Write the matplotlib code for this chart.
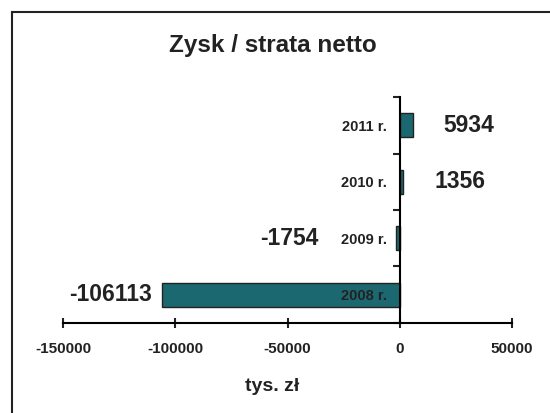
import matplotlib.pyplot as plt
from matplotlib.patches import Rectangle

years = ['2008 r.', '2009 r.', '2010 r.', '2011 r.']
profit = [-106113, -1754, 1356, 5934]
label_offsets = [-6.5, -56, 23, 21.5]  # points, from bar end

plt.rcParams['font.family'] = ['Liberation Sans', 'DejaVu Sans']
plt.rcParams['font.weight'] = 'bold'

fig = plt.figure(figsize=(5.5, 4.13), dpi=100)
fig.patches.append(Rectangle((0.022, -0.05), 1.2, 1.02, transform=fig.transFigure,
                             fill=False, edgecolor='#222222', linewidth=1.5))

ax = fig.add_axes([0.1145, 0.218, 0.8165, 0.547])
pos = list(range(len(years)))
ax.barh(pos, profit, height=0.42, color='#1b6870', edgecolor='#222222', linewidth=1.0)

ax.set_xlim(-150000, 50000)
ax.set_ylim(-0.5, 3.5)
ax.set_xticks([-150000, -100000, -50000, 0, 50000])
ax.set_xticklabels(['-150000', '-100000', '-50000', '0', '50000'], fontsize=11, fontweight='bold')
ax.tick_params(axis='x', direction='inout', length=7, width=1.5, pad=10, colors='#222222')

ax.spines['left'].set_position(('data', 0))
for s in ['top', 'right']:
    ax.spines[s].set_visible(False)
ax.spines['left'].set_linewidth(1.5)
ax.spines['bottom'].set_linewidth(1.5)

ax.set_yticks(pos)
ax.set_yticklabels(years, fontsize=10.5, fontweight='bold')
ax.tick_params(axis='y', which='major', length=0, pad=9, colors='#222222')
ax.set_yticks([-0.5, 0.5, 1.5, 2.5, 3.5], minor=True)
ax.tick_params(axis='y', which='minor', direction='out', length=5, width=1.5, colors='#222222')

for p, v, off in zip(pos, profit, label_offsets):
    ax.annotate(str(v), (v, p), xytext=(off, 0), textcoords='offset points',
                ha='left' if off > 0 else 'right', va='center',
                fontsize=16.5, fontweight='bold', color='#222222')

ax.set_xlabel('tys. zł', fontsize=14, fontweight='bold', color='#222222')
ax.xaxis.set_label_coords(0.465, -0.245)
fig.text(0.497, 0.89, 'Zysk / strata netto', ha='center', va='center',
         fontsize=17.5, fontweight='bold', color='#222222')

fig.savefig('out.png', dpi=100)
